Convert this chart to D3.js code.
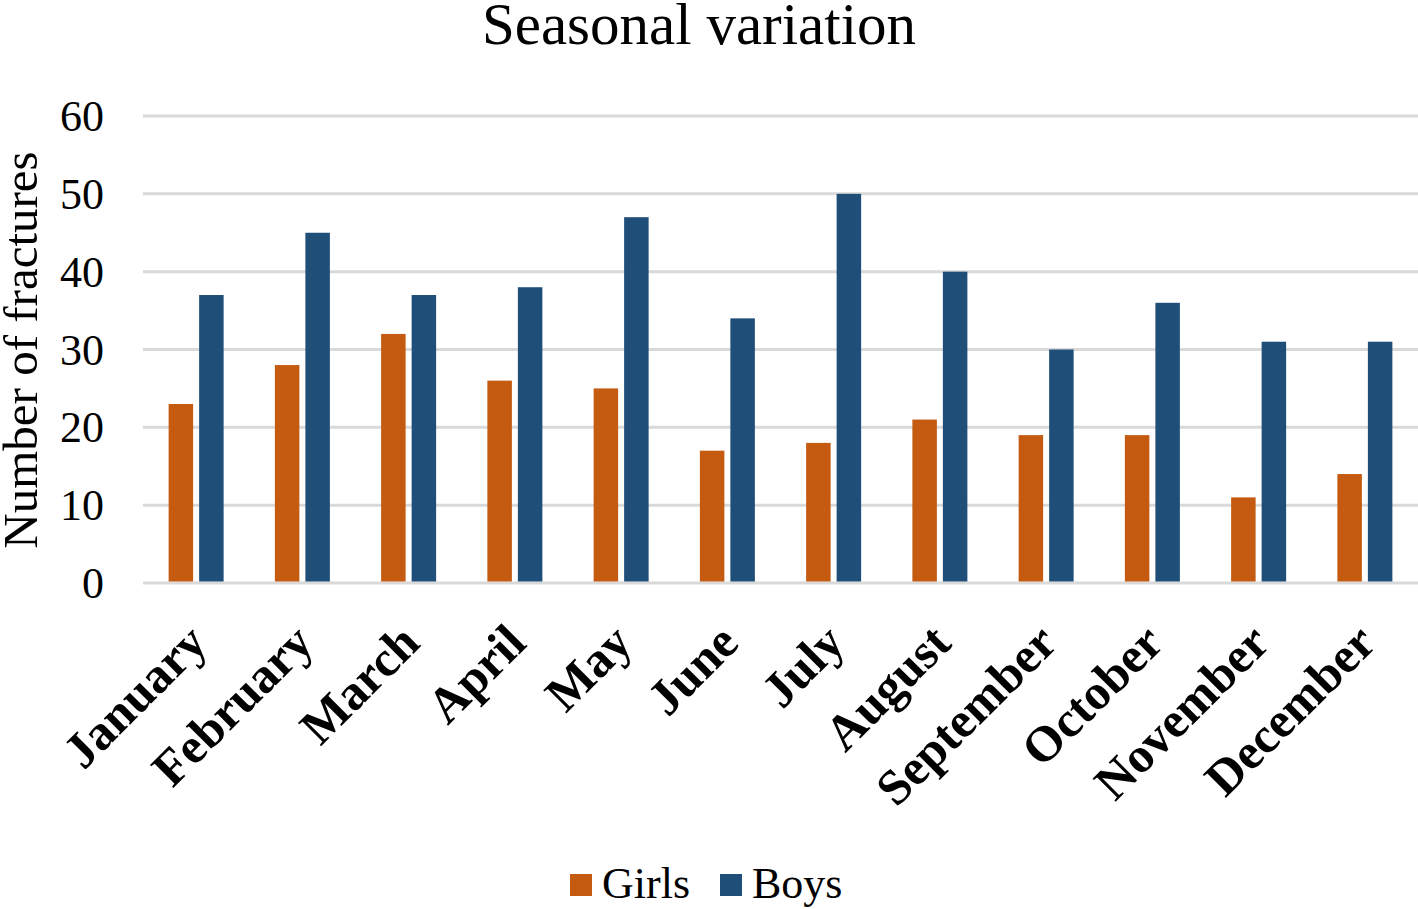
<!DOCTYPE html>
<html><head><meta charset="utf-8">
<script src="https://cdn.jsdelivr.net/npm/d3@7"></script>
<style>body{margin:0;background:#fff}svg{display:block}</style>
</head><body>
<script>
const months = ["January","February","March","April","May","June","July","August","September","October","November","December"];
const seriesNames = ["Girls","Boys"];
const girls = [23,28,32,26,25,17,18,21,19,19,11,14];
const boys = [37,45,37,38,47,34,50,40,30,36,31,31];
const yTicks = [0,10,20,30,40,50,60];
const colors = {Girls:"#C55A11", Boys:"#1F4E79"};
const values = {Girls:girls, Boys:boys};

const W=1418, H=909;
const svg = d3.select("body").append("svg").attr("width",W).attr("height",H);
const font = "'Liberation Serif','Times New Roman',serif";

const x0 = d3.scaleBand().domain(months).range([143,1418]).padding(0);
const x1 = d3.scaleBand().domain(seriesNames).range([-27.5,27.5]).paddingInner(0.197);
const y = d3.scaleLinear().domain([0,60]).range([583,116]);

// gridlines
svg.append("g").selectAll("line").data(yTicks).join("line")
  .attr("x1",143).attr("x2",1418).attr("y1",d=>y(d)).attr("y2",d=>y(d))
  .attr("stroke","#D9D9D9").attr("stroke-width",3);

// y axis labels
const yAxis = d3.axisLeft(y).tickValues(yTicks).tickSize(0).tickPadding(0);
const yg = svg.append("g").attr("transform","translate(104,0)").call(yAxis);
yg.select(".domain").remove();
yg.selectAll("text").attr("font-family",font).attr("font-size",44).attr("fill","#000").attr("dy","0.33em");

// bars
const groups = svg.append("g").selectAll("g").data(months).join("g")
  .attr("transform",d=>`translate(${x0(d)+x0.bandwidth()/2},0)`);
groups.selectAll("rect").data((m,i)=>seriesNames.map(s=>({s,v:values[s][i]}))).join("rect")
  .attr("x",d=>x1(d.s)).attr("width",x1.bandwidth())
  .attr("y",d=>y(d.v)).attr("height",d=>y(0)-y(d.v)-1.5)
  .attr("fill",d=>colors[d.s]);

// x labels
const xAxis = d3.axisBottom(x0).tickSize(0).tickPadding(0);
const xg = svg.append("g").call(xAxis);
xg.select(".domain").remove();
xg.selectAll(".tick").attr("transform",d=>`translate(${x0(d)+x0.bandwidth()/2+1},633)`);
xg.selectAll("text").attr("font-family",font).attr("font-size",50).attr("font-weight","bold")
  .attr("fill","#000").attr("text-anchor","end").attr("dy","0.35em").attr("y",0)
  .attr("transform","rotate(-45)");

// title
svg.append("text").attr("x",699).attr("y",44).attr("text-anchor","middle")
  .attr("font-family",font).attr("font-size",59).text("Seasonal variation");

// y title
svg.append("text").attr("transform","translate(37,350) rotate(-90)").attr("text-anchor","middle")
  .attr("font-family",font).attr("font-size",49).text("Number of fractures");

// legend
const leg = svg.append("g");
const legItems = [{s:"Girls",x:570},{s:"Boys",x:720}];
legItems.forEach(it=>{
  leg.append("rect").attr("x",it.x).attr("y",874).attr("width",22).attr("height",22).attr("fill",colors[it.s]);
  leg.append("text").attr("x",it.x+32).attr("y",898).attr("font-family",font).attr("font-size",44).text(it.s);
});
</script>
</body></html>
